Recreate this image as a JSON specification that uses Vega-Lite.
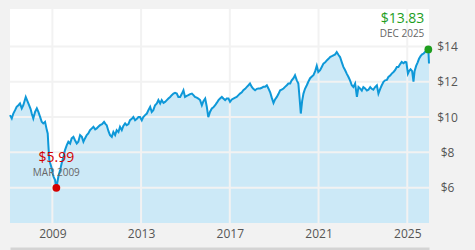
{
  "$schema": "https://vega.github.io/schema/vega-lite/v6.json",
  "width": 419,
  "height": 214,
  "autosize": {"type": "none"},
  "padding": {"left": 10, "top": 9, "right": 46, "bottom": 27},
  "background": "#f2f2f2",
  "view": {"fill": "#ffffff", "stroke": null},
  "datasets": {
    "series": [
      {"t":2007.09,"v":10.11},{"t":2007.17,"v":9.92},{"t":2007.24,"v":10.2},{"t":2007.32,"v":10.39},{"t":2007.39,"v":10.58},{"t":2007.47,"v":10.67},{"t":2007.54,"v":10.77},{"t":2007.62,"v":10.49},{"t":2007.69,"v":10.67},{"t":2007.80,"v":11.14},{"t":2007.89,"v":10.86},{"t":2007.95,"v":10.67},
      {"t":2008.02,"v":10.45},{"t":2008.07,"v":10.2},{"t":2008.14,"v":9.92},{"t":2008.22,"v":10.29},{"t":2008.30,"v":10.49},{"t":2008.37,"v":10.29},{"t":2008.45,"v":10.0},{"t":2008.52,"v":9.73},{"t":2008.59,"v":9.64},{"t":2008.67,"v":9.73},{"t":2008.75,"v":9.26},{"t":2008.79,"v":9.07},{"t":2008.82,"v":8.41},{"t":2008.86,"v":7.6},{"t":2008.90,"v":7.4},{"t":2008.97,"v":7.1},
      {"t":2009.05,"v":6.62},{"t":2009.12,"v":6.44},{"t":2009.18,"v":5.99},{"t":2009.27,"v":6.62},{"t":2009.35,"v":7.0},{"t":2009.42,"v":7.38},{"t":2009.50,"v":7.75},{"t":2009.57,"v":8.13},{"t":2009.65,"v":8.41},{"t":2009.72,"v":8.6},{"t":2009.80,"v":8.5},{"t":2009.87,"v":8.79},{"t":2009.95,"v":8.88},
      {"t":2010.02,"v":8.69},{"t":2010.10,"v":8.5},{"t":2010.17,"v":8.6},{"t":2010.25,"v":8.98},{"t":2010.33,"v":8.88},{"t":2010.40,"v":8.6},{"t":2010.47,"v":8.79},{"t":2010.55,"v":8.98},{"t":2010.62,"v":9.07},{"t":2010.70,"v":9.26},{"t":2010.78,"v":9.36},{"t":2010.85,"v":9.45},{"t":2010.93,"v":9.3},
      {"t":2011.00,"v":9.36},{"t":2011.07,"v":9.45},{"t":2011.15,"v":9.54},{"t":2011.24,"v":9.6},{"t":2011.33,"v":9.73},{"t":2011.40,"v":9.6},{"t":2011.45,"v":9.54},{"t":2011.53,"v":9.2},{"t":2011.60,"v":8.98},{"t":2011.68,"v":8.88},{"t":2011.75,"v":9.16},{"t":2011.83,"v":8.98},{"t":2011.90,"v":9.26},{"t":2011.98,"v":9.15},
      {"t":2012.05,"v":9.45},{"t":2012.13,"v":9.26},{"t":2012.20,"v":9.5},{"t":2012.28,"v":9.64},{"t":2012.35,"v":9.54},{"t":2012.43,"v":9.6},{"t":2012.50,"v":9.82},{"t":2012.58,"v":9.9},{"t":2012.65,"v":10.0},{"t":2012.73,"v":9.82},{"t":2012.81,"v":9.9},{"t":2012.88,"v":10.0},{"t":2012.95,"v":10.0},
      {"t":2013.03,"v":9.82},{"t":2013.10,"v":10.0},{"t":2013.18,"v":10.11},{"t":2013.26,"v":10.2},{"t":2013.33,"v":10.39},{"t":2013.41,"v":10.58},{"t":2013.48,"v":10.29},{"t":2013.55,"v":10.39},{"t":2013.63,"v":10.67},{"t":2013.71,"v":10.77},{"t":2013.78,"v":10.96},{"t":2013.86,"v":10.77},{"t":2013.93,"v":10.96},
      {"t":2014.01,"v":10.8},{"t":2014.08,"v":10.86},{"t":2014.16,"v":10.96},{"t":2014.23,"v":11.05},{"t":2014.31,"v":11.14},{"t":2014.38,"v":11.24},{"t":2014.46,"v":11.33},{"t":2014.53,"v":11.37},{"t":2014.61,"v":11.33},{"t":2014.68,"v":11.14},{"t":2014.76,"v":11.14},{"t":2014.83,"v":11.3},{"t":2014.91,"v":11.52},{"t":2014.98,"v":11.14},
      {"t":2015.06,"v":11.2},{"t":2015.13,"v":11.24},{"t":2015.21,"v":11.3},{"t":2015.29,"v":11.33},{"t":2015.36,"v":11.24},{"t":2015.43,"v":11.14},{"t":2015.51,"v":11.1},{"t":2015.58,"v":11.05},{"t":2015.66,"v":10.96},{"t":2015.74,"v":10.67},{"t":2015.81,"v":10.9},{"t":2015.89,"v":11.05},{"t":2015.96,"v":10.6},
      {"t":2016.03,"v":10.0},{"t":2016.11,"v":10.3},{"t":2016.19,"v":10.49},{"t":2016.26,"v":10.55},{"t":2016.34,"v":10.67},{"t":2016.41,"v":10.8},{"t":2016.49,"v":10.96},{"t":2016.56,"v":11.05},{"t":2016.64,"v":11.14},{"t":2016.71,"v":11.05},{"t":2016.79,"v":10.96},{"t":2016.86,"v":11.05},{"t":2016.94,"v":11.05},
      {"t":2017.01,"v":10.86},{"t":2017.09,"v":11.0},{"t":2017.16,"v":11.05},{"t":2017.24,"v":11.1},{"t":2017.31,"v":11.14},{"t":2017.39,"v":11.24},{"t":2017.46,"v":11.33},{"t":2017.54,"v":11.4},{"t":2017.61,"v":11.52},{"t":2017.69,"v":11.6},{"t":2017.77,"v":11.71},{"t":2017.84,"v":11.8},{"t":2017.91,"v":11.9},{"t":2017.99,"v":11.71},
      {"t":2018.06,"v":11.6},{"t":2018.14,"v":11.52},{"t":2018.22,"v":11.6},{"t":2018.29,"v":11.62},{"t":2018.37,"v":11.62},{"t":2018.44,"v":11.66},{"t":2018.51,"v":11.71},{"t":2018.59,"v":11.71},{"t":2018.67,"v":11.8},{"t":2018.74,"v":11.62},{"t":2018.82,"v":11.4},{"t":2018.89,"v":11.1},{"t":2018.97,"v":10.8},
      {"t":2019.04,"v":11.0},{"t":2019.12,"v":11.14},{"t":2019.19,"v":11.3},{"t":2019.27,"v":11.52},{"t":2019.34,"v":11.55},{"t":2019.42,"v":11.62},{"t":2019.49,"v":11.71},{"t":2019.57,"v":11.8},{"t":2019.64,"v":11.9},{"t":2019.72,"v":11.9},{"t":2019.79,"v":12.08},{"t":2019.87,"v":12.2},{"t":2019.94,"v":12.37},
      {"t":2020.02,"v":12.08},{"t":2020.09,"v":11.9},{"t":2020.15,"v":11.0},{"t":2020.20,"v":10.2},{"t":2020.26,"v":10.9},{"t":2020.32,"v":11.33},{"t":2020.39,"v":11.6},{"t":2020.47,"v":11.8},{"t":2020.54,"v":12.0},{"t":2020.62,"v":12.2},{"t":2020.70,"v":12.3},{"t":2020.77,"v":12.37},{"t":2020.85,"v":12.6},{"t":2020.92,"v":12.9},{"t":2020.99,"v":12.55},
      {"t":2021.07,"v":12.65},{"t":2021.15,"v":12.85},{"t":2021.22,"v":13.03},{"t":2021.30,"v":13.1},{"t":2021.37,"v":13.21},{"t":2021.45,"v":13.3},{"t":2021.52,"v":13.4},{"t":2021.60,"v":13.45},{"t":2021.67,"v":13.5},{"t":2021.75,"v":13.55},{"t":2021.82,"v":13.68},{"t":2021.91,"v":13.5},{"t":2021.97,"v":13.4},
      {"t":2022.05,"v":13.1},{"t":2022.12,"v":12.84},{"t":2022.20,"v":12.65},{"t":2022.27,"v":12.46},{"t":2022.35,"v":12.27},{"t":2022.42,"v":12.08},{"t":2022.50,"v":11.8},{"t":2022.57,"v":11.7},{"t":2022.65,"v":11.9},{"t":2022.73,"v":11.14},{"t":2022.80,"v":11.7},{"t":2022.87,"v":11.62},{"t":2022.95,"v":11.5},
      {"t":2023.02,"v":11.7},{"t":2023.10,"v":11.62},{"t":2023.18,"v":11.5},{"t":2023.25,"v":11.55},{"t":2023.33,"v":11.7},{"t":2023.40,"v":11.6},{"t":2023.47,"v":11.55},{"t":2023.55,"v":11.7},{"t":2023.63,"v":11.8},{"t":2023.70,"v":11.33},{"t":2023.78,"v":11.6},{"t":2023.85,"v":11.8},{"t":2023.93,"v":12.0},
      {"t":2024.00,"v":12.08},{"t":2024.08,"v":12.1},{"t":2024.15,"v":12.27},{"t":2024.23,"v":12.35},{"t":2024.30,"v":12.46},{"t":2024.38,"v":12.55},{"t":2024.45,"v":12.65},{"t":2024.53,"v":12.84},{"t":2024.60,"v":12.84},{"t":2024.68,"v":13.0},{"t":2024.75,"v":13.12},{"t":2024.83,"v":13.05},{"t":2024.90,"v":13.12},{"t":2024.96,"v":13.1},
      {"t":2025.03,"v":12.46},{"t":2025.08,"v":12.6},{"t":2025.15,"v":12.7},{"t":2025.22,"v":12.6},{"t":2025.28,"v":12.0},{"t":2025.33,"v":12.6},{"t":2025.40,"v":12.9},{"t":2025.47,"v":13.1},{"t":2025.53,"v":13.3},{"t":2025.60,"v":13.45},{"t":2025.67,"v":13.55},{"t":2025.74,"v":13.6},{"t":2025.81,"v":13.7},{"t":2025.87,"v":13.75},{"t":2025.95,"v":13.83},{"t":2025.98,"v":13.03}
    ],
    "gridx": [{"t":2009},{"t":2013},{"t":2017},{"t":2021},{"t":2025}],
    "gridy": [{"v":6},{"v":8},{"v":10},{"v":12},{"v":14}],
    "marks": [
      {"t":2009.18,"v":5.99,"price":"$5.99","when":"MAR 2009","kind":"min"},
      {"t":2025.95,"v":13.83,"price":"$13.83","when":"DEC 2025","kind":"max"}
    ]
  },
  "config": {
    "axisX": {"grid": false, "ticks": false, "domain": true, "domainColor": "#d4d4d4", "domainWidth": 3, "offset": 25.5, "labelPadding": -20, "labelColor": "#555555", "labelFontSize": 12, "labelFont": "Open Sans"},
    "axisY": {"grid": false, "ticks": false, "domain": false, "labelPadding": 18, "labelAlign": "center", "labelColor": "#555555", "labelFontSize": 12, "labelFont": "Open Sans"}
  },
  "layer": [
    {
      "data": {"name": "series"},
      "mark": {"type": "area", "color": "#cce9f7", "opacity": 1},
      "encoding": {
        "x": {"field": "t", "type": "quantitative", "title": null,
          "scale": {"domain": [2007.09, 2025.98], "nice": false, "zero": false},
          "axis": {"values": [2009, 2013, 2017, 2021, 2025], "format": "d"}},
        "y": {"field": "v", "type": "quantitative", "title": null,
          "scale": {"domain": [4, 16.12], "nice": false, "zero": false},
          "axis": {"orient": "right", "values": [6, 8, 10, 12, 14], "labelExpr": "'$' + datum.value"}},
        "y2": {"datum": 4}
      }
    },
    {
      "data": {"name": "gridx"},
      "mark": {"type": "rule", "color": "#f2f2f2", "strokeWidth": 2},
      "encoding": {"x": {"field": "t", "type": "quantitative", "title": null, "axis": {"values": [2009, 2013, 2017, 2021, 2025], "format": "d"}}}
    },
    {
      "data": {"name": "gridy"},
      "mark": {"type": "rule", "color": "#f2f2f2", "strokeWidth": 2},
      "encoding": {"y": {"field": "v", "type": "quantitative", "title": null, "axis": {"orient": "right", "values": [6, 8, 10, 12, 14], "labelExpr": "'$' + datum.value"}}}
    },
    {
      "data": {"name": "series"},
      "mark": {"type": "line", "color": "#0e98d8", "strokeWidth": 2},
      "encoding": {
        "x": {"field": "t", "type": "quantitative", "title": null, "axis": {"values": [2009, 2013, 2017, 2021, 2025], "format": "d"}},
        "y": {"field": "v", "type": "quantitative", "title": null, "axis": {"orient": "right", "values": [6, 8, 10, 12, 14], "labelExpr": "'$' + datum.value"}}
      }
    },
    {
      "data": {"name": "marks"},
      "transform": [{"filter": "datum.kind === 'min'"}],
      "mark": {"type": "point", "filled": true, "opacity": 1, "size": 60, "color": "#d40000"},
      "encoding": {
        "x": {"field": "t", "type": "quantitative", "title": null, "axis": {"values": [2009, 2013, 2017, 2021, 2025], "format": "d"}},
        "y": {"field": "v", "type": "quantitative", "title": null, "axis": {"orient": "right", "values": [6, 8, 10, 12, 14], "labelExpr": "'$' + datum.value"}}
      }
    },
    {
      "data": {"name": "marks"},
      "transform": [{"filter": "datum.kind === 'max'"}],
      "mark": {"type": "point", "filled": true, "opacity": 1, "size": 60, "color": "#1e9e1e"},
      "encoding": {
        "x": {"field": "t", "type": "quantitative", "title": null, "axis": {"values": [2009, 2013, 2017, 2021, 2025], "format": "d"}},
        "y": {"field": "v", "type": "quantitative", "title": null, "axis": {"orient": "right", "values": [6, 8, 10, 12, 14], "labelExpr": "'$' + datum.value"}}
      }
    },
    {
      "data": {"name": "marks"},
      "transform": [{"filter": "datum.kind === 'min'"}],
      "mark": {"type": "text", "color": "#d40000", "font": "Open Sans", "fontSize": 14, "align": "center", "baseline": "alphabetic", "dy": -25.5},
      "encoding": {
        "x": {"field": "t", "type": "quantitative", "title": null, "axis": {"values": [2009, 2013, 2017, 2021, 2025], "format": "d"}},
        "y": {"field": "v", "type": "quantitative", "title": null, "axis": {"orient": "right", "values": [6, 8, 10, 12, 14], "labelExpr": "'$' + datum.value"}},
        "text": {"field": "price"}
      }
    },
    {
      "data": {"name": "marks"},
      "transform": [{"filter": "datum.kind === 'min'"}],
      "mark": {"type": "text", "color": "#666666", "font": "Open Sans", "fontSize": 10, "align": "center", "baseline": "alphabetic", "dy": -11.5},
      "encoding": {
        "x": {"field": "t", "type": "quantitative", "title": null, "axis": {"values": [2009, 2013, 2017, 2021, 2025], "format": "d"}},
        "y": {"field": "v", "type": "quantitative", "title": null, "axis": {"orient": "right", "values": [6, 8, 10, 12, 14], "labelExpr": "'$' + datum.value"}},
        "text": {"field": "when"}
      }
    },
    {
      "data": {"name": "marks"},
      "transform": [{"filter": "datum.kind === 'max'"}],
      "mark": {"type": "text", "color": "#1e9e1e", "font": "Open Sans", "fontSize": 14, "align": "right", "baseline": "alphabetic", "dx": -4, "dy": -26},
      "encoding": {
        "x": {"field": "t", "type": "quantitative", "title": null, "axis": {"values": [2009, 2013, 2017, 2021, 2025], "format": "d"}},
        "y": {"field": "v", "type": "quantitative", "title": null, "axis": {"orient": "right", "values": [6, 8, 10, 12, 14], "labelExpr": "'$' + datum.value"}},
        "text": {"field": "price"}
      }
    },
    {
      "data": {"name": "marks"},
      "transform": [{"filter": "datum.kind === 'max'"}],
      "mark": {"type": "text", "color": "#666666", "font": "Open Sans", "fontSize": 10, "align": "right", "baseline": "alphabetic", "dx": -4, "dy": -12.5},
      "encoding": {
        "x": {"field": "t", "type": "quantitative", "title": null, "axis": {"values": [2009, 2013, 2017, 2021, 2025], "format": "d"}},
        "y": {"field": "v", "type": "quantitative", "title": null, "axis": {"orient": "right", "values": [6, 8, 10, 12, 14], "labelExpr": "'$' + datum.value"}},
        "text": {"field": "when"}
      }
    }
  ]
}
